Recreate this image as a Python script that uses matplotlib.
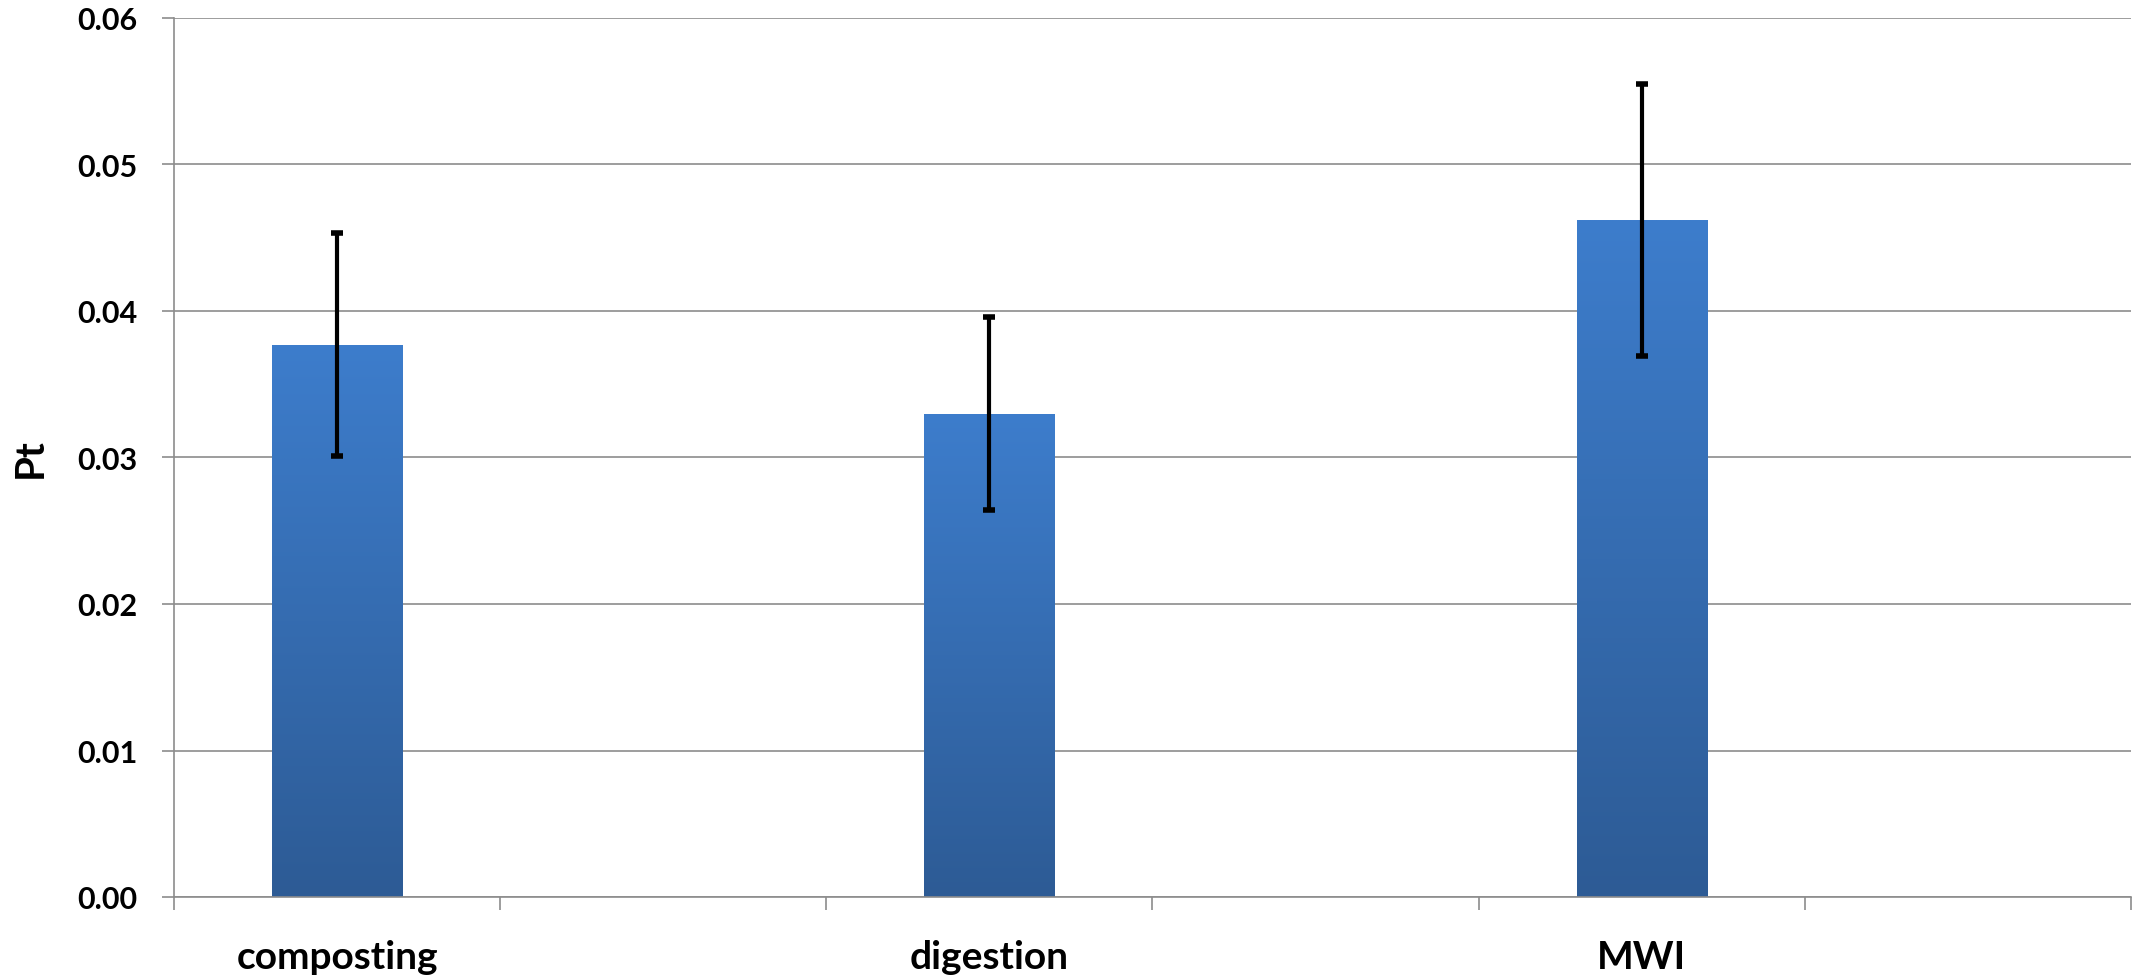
import numpy as np
import matplotlib
matplotlib.use("Agg")
import matplotlib.pyplot as plt
from matplotlib.colors import LinearSegmentedColormap

categories = ["composting", "", "digestion", "", "MWI", ""]
values = [0.0377, np.nan, 0.0330, np.nan, 0.0462, np.nan]
errors = [0.0076, np.nan, 0.0066, np.nan, 0.0093, np.nan]
yticks = [0.00, 0.01, 0.02, 0.03, 0.04, 0.05, 0.06]
ylabel = "Pt"

plt.rcParams['font.family'] = ['Lato', 'DejaVu Sans']

fig = plt.figure(figsize=(21.32, 9.78), dpi=100)
ax = fig.add_axes([174/2132, 1-898/978, (2131-174)/2132, (898-19)/978])

x = np.arange(len(categories))
bars = ax.bar(x, np.nan_to_num(values), width=0.4, color='#3a78c6', zorder=2)

grad_cmap = LinearSegmentedColormap.from_list('g', ['#2d5b95', '#3d7dcc'])
grad = np.linspace(0, 1, 256).reshape(-1, 1)
for b, v in zip(bars, values):
    if np.isnan(v):
        b.set_visible(False)
        continue
    x0, y0 = b.get_x(), b.get_y()
    w, h = b.get_width(), b.get_height()
    im = ax.imshow(grad, cmap=grad_cmap, origin='lower', aspect='auto',
                   extent=[x0, x0 + w, y0, y0 + h], zorder=2.1)
    im.set_clip_path(b)

mask = ~np.isnan(np.array(values))
ax.errorbar(x[mask], np.array(values)[mask], yerr=np.array(errors)[mask],
            fmt='none', ecolor='black', elinewidth=3.0, capsize=4.5,
            capthick=4, zorder=3)

ax.set_xlim(-0.5, len(categories) - 0.5)
ax.set_ylim(0, 0.06)
ax.set_yticks(yticks)
ax.set_yticklabels([f"{t:.2f}" for t in yticks])
ax.yaxis.grid(True, color='#8c8c8c', linewidth=1.2, zorder=0)
ax.set_axisbelow(True)

ax.set_xticks(x)
ax.set_xticklabels(categories)
ax.set_xticks(np.arange(-0.5, len(categories)), minor=True)
ax.tick_params(axis='x', which='major', length=0, pad=30)
ax.tick_params(axis='x', which='minor', length=9.5, width=1.2, color='#8c8c8c')
ax.tick_params(axis='y', length=8.5, width=1.2, color='#8c8c8c', pad=18)

for lab in ax.get_yticklabels():
    lab.set_fontweight('bold')
    lab.set_fontsize(22)
    lab.set_color('black')
for lab in ax.get_xticklabels():
    lab.set_fontweight('bold')
    lab.set_fontsize(28)
    lab.set_color('black')

ax.set_ylabel(ylabel, fontsize=29, fontweight='bold', labelpad=20)

for s in ['top', 'right']:
    ax.spines[s].set_visible(False)
for s in ['left', 'bottom']:
    ax.spines[s].set_color('#8c8c8c')
    ax.spines[s].set_linewidth(1.2)

fig.savefig('out.png', dpi=100, facecolor='white')
